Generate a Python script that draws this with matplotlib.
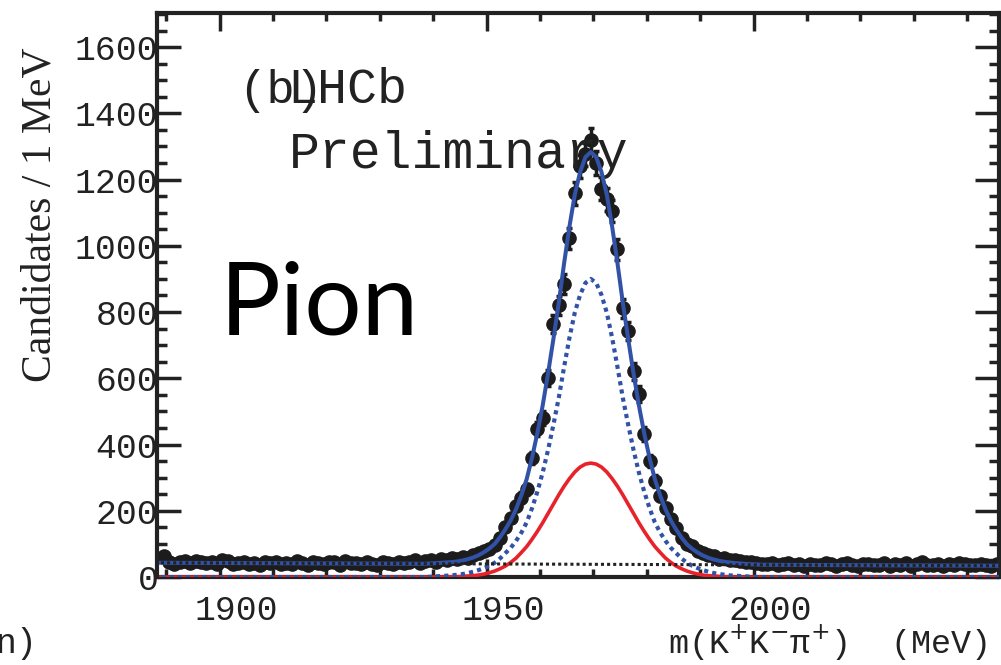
import numpy as np
import matplotlib
matplotlib.use("Agg")
import matplotlib.pyplot as plt
from matplotlib.ticker import MultipleLocator
from matplotlib.transforms import ScaledTranslation

# candidates per 1 MeV bin, bins centred from 1889.5 to 2046.5 MeV
mass = np.arange(1889, 2047) + 0.5
counts = [62, 45, 40, 44, 47, 43, 49, 44, 41, 46,
          38, 52, 48, 39, 42, 45, 40, 43, 37, 44,
          41, 46, 39, 42, 38, 47, 43, 36, 46, 42,
          39, 44, 45, 36, 48, 41, 43, 38, 45, 40,
          37, 46, 42, 39, 44, 41, 45, 50, 43, 48,
          52, 46, 55, 50, 57, 53, 61, 58, 66, 72,
          80, 84, 98, 118, 150, 178, 214, 240, 265, 359,
          446, 480, 600, 763, 820, 884, 1023, 1158, 1240, 1276,
          1320, 1250, 1173, 1140, 1104, 990, 811, 742, 621, 552,
          431, 350, 290, 244, 208, 175, 148, 118, 100, 94,
          80, 72, 66, 63, 55, 58, 50, 52, 47, 44,
          46, 42, 40, 38, 41, 35, 39, 42, 36, 38,
          33, 40, 37, 35, 41, 38, 34, 39, 42, 36,
          33, 38, 40, 35, 37, 42, 34, 39, 36, 41,
          33, 38, 44, 35, 37, 40, 34, 39, 36, 41,
          38, 35, 37, 40, 36, 34, 39, 42]

# fit curves
curve_mass = [1889, 1900, 1910, 1920, 1930, 1935] + list(np.arange(1937, 2002) + 0.5) + [2005, 2010, 2020, 2030, 2040, 2047]
fit_total = [43, 42.3, 41.7, 41, 40.4, 40.1,
             40, 40, 41, 42, 43, 44, 45, 47, 50, 54, 59, 66, 75, 86, 100, 120,
             144, 171, 205, 247, 296, 361, 435, 519, 615, 719, 828, 947, 1058, 1154, 1223, 1268,
             1283,
             1268, 1223, 1154, 1058, 947, 828, 719, 615, 519, 434, 360, 295, 246, 204, 170, 143,
             119, 99, 85, 74, 65, 58, 53, 49, 46, 44, 42, 41, 39.5, 38.5, 38, 37,
             36.7, 36.3, 35.7, 35.0, 34.4, 34]
fit_sig1 = [0, 0, 0, 0, 0, 0,
            0, 0, 1, 2, 3, 4, 5, 7, 9, 12, 16, 21, 27, 34, 43, 56,
            72, 88, 109, 134, 165, 208, 258, 316, 384, 460, 541, 634, 722, 798, 852, 888,
            900,
            888, 852, 798, 722, 634, 541, 460, 384, 316, 258, 208, 165, 134, 109, 88, 72,
            56, 43, 34, 27, 21, 16, 12, 9, 7, 5, 4, 3, 2, 1, 0, 0,
            0, 0, 0, 0, 0, 0]
fit_sig2 = [0, 0, 0, 0, 0, 0,
            0, 0, 0, 0, 0, 0, 1, 1, 2, 3, 4, 6, 9, 13, 18, 25,
            33, 44, 57, 74, 92, 114, 138, 164, 192, 220, 248, 274, 297, 317, 332, 341,
            344,
            341, 332, 317, 297, 274, 248, 220, 192, 164, 138, 114, 92, 74, 57, 44, 33,
            25, 18, 13, 9, 6, 4, 3, 2, 1, 1, 0, 0, 0, 0, 0, 0,
            0, 0, 0, 0, 0, 0]
bkg_mass = [1889, 2047]
bkg_vals = [43, 34]

blue = '#3152a6'
red = '#e8222a'
ink = '#222222'
mono = 'Liberation Mono'

fig = plt.figure(figsize=(10.01, 6.65), dpi=100)
ax = fig.add_axes([0.1568, 0.1323, 0.8412, 0.8482])

ax.plot(curve_mass, fit_sig2, color=red, lw=2.6, zorder=3)
ax.plot(curve_mass, fit_sig1, color=blue, lw=3, ls=(0, (1.0, 1.0)), zorder=3)
ax.plot(curve_mass, fit_total, color=blue, lw=2.9, zorder=4)
ax.plot(bkg_mass, bkg_vals, color=ink, lw=2.2, ls=(0, (1, 1)), zorder=5)
ax.errorbar(mass, counts, yerr=np.sqrt(counts), fmt='o', ms=9.5, color='#1c1c1c',
            elinewidth=2.5, capsize=2.5, capthick=2.5, zorder=2)

ax.set_xlim(1888.25, 2045.95)
ax.set_ylim(0, 1703)

for s in ax.spines.values():
    s.set_linewidth(3)
    s.set_color(ink)

ax.xaxis.set_major_locator(MultipleLocator(50))
ax.xaxis.set_minor_locator(MultipleLocator(10))
ax.yaxis.set_major_locator(MultipleLocator(200))
ax.yaxis.set_minor_locator(MultipleLocator(50))
ax.tick_params(axis='both', which='both', direction='in', top=True, right=True,
               color=ink, width=2.5)
ax.tick_params(axis='y', which='major', length=17, pad=-1)
ax.tick_params(axis='y', which='minor', length=7)
ax.tick_params(axis='x', which='major', length=13, pad=12)
ax.tick_params(axis='x', which='minor', length=6)
ax.set_xticks([1900, 1950, 2000])
ax.set_yticks([0, 200, 400, 600, 800, 1000, 1200, 1400, 1600])
for lab in ax.get_xticklabels() + ax.get_yticklabels():
    lab.set_fontfamily(mono)
    lab.set_fontsize(25)
    lab.set_color(ink)
shift = ScaledTranslation(0.17, 0, fig.dpi_scale_trans)
for lab in ax.get_xticklabels():
    lab.set_transform(lab.get_transform() + shift)

# labels on the plot
fig.text(238 / 1001, 1 - 103 / 665, '(b)', va='baseline', fontsize=34, family=mono, color=ink)
ax.text(0.155, 0.84, 'LHCb', transform=ax.transAxes, fontsize=36, family=mono, color=ink)
ax.text(0.157, 0.725, 'Preliminary', transform=ax.transAxes, fontsize=37, family=mono, color=ink)
ax.text(0.075, 0.43, 'Pion', transform=ax.transAxes, fontsize=73, family='Lato', color='black')

fig.text(40 / 1001, 1 - 215 / 665, 'Candidates / 1 MeV', rotation=90, ha='center', va='center',
         fontsize=30, family='Liberation Serif', color=ink)
fig.text(668 / 1001, 1 - 643 / 665, 'm(K$^{+}$K$^{-}$\u03c0$^{+}$)  (MeV)', ha='left', va='center',
         fontsize=24, family=[mono, 'DejaVu Sans Mono'], color=ink)
fig.text(-0.004, 1 - 643 / 665, 'n)', ha='left', va='center', fontsize=25, family=mono, color=ink)

fig.savefig('out.png', dpi=100)
